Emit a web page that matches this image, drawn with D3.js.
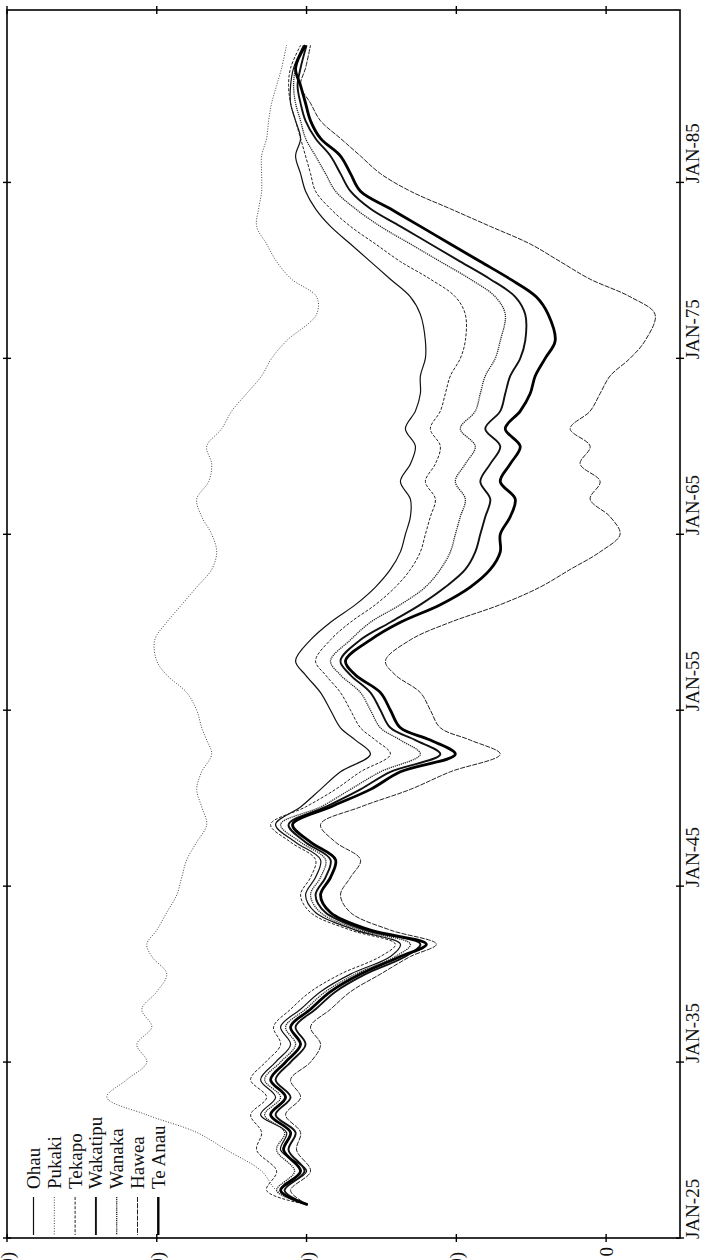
<!DOCTYPE html>
<html>
<head>
<meta charset="utf-8">
<script src="https://cdn.jsdelivr.net/npm/d3@7/dist/d3.min.js"></script>
<style>
  html, body { margin: 0; padding: 0; background: #fff; }
  svg { display: block; }
  text { font-family: "Liberation Serif", "DejaVu Serif", serif; fill: #111; }
</style>
</head>
<body>
<svg id="chart" width="705" height="1260"></svg>
<script>
// Lake series: cumulative departures, sampled at decimal years
const years = [1926.9, 1927.7, 1928.8, 1930, 1931, 1932, 1933, 1934, 1935, 1936,
  1937, 1938, 1939, 1940, 1941, 1941.7, 1942.5, 1943.5, 1944.5, 1945.5,
  1946.5, 1947.5, 1948.5, 1949.5, 1950.5, 1951.5, 1952.5, 1953.3, 1954, 1955,
  1956, 1957, 1957.8, 1959, 1960, 1961, 1962, 1963, 1964, 1965,
  1966, 1967, 1968, 1969, 1970, 1971, 1972, 1973, 1974, 1975,
  1976, 1977.5, 1978.5, 1979.5, 1980.5, 1981.5, 1982.5, 1983.5, 1984.5, 1985.5,
  1986.5, 1987.5, 1988.5, 1989.5, 1990.5, 1991.5, 1992.8];

const lakes = ["Ohau", "Pukaki", "Tekapo", "Wakatipu", "Wanaka", "Hawea", "Te Anau"];

const ohau = [-299, -326, -300, -326, -320, -346, -331, -346, -331, -316,
  -326, -306, -286, -256, -216, -206, -251, -291, -301, -291,
  -286, -311, -331, -306, -286, -266, -236, -251, -266, -276,
  -286, -301, -311, -296, -276, -251, -231, -216, -206, -201,
  -196, -196, -206, -196, -191, -201, -191, -186, -186, -181,
  -181, -186, -196, -216, -236, -256, -276, -291, -301, -306,
  -311, -306, -311, -316, -316, -313, -303];
const pukaki = [-299, -330, -345, -380, -410, -460, -500, -480, -460, -470,
  -455, -465, -450, -440, -455, -460, -450, -440, -430, -425,
  -420, -410, -400, -405, -410, -405, -395, -400, -405, -410,
  -420, -440, -450, -452, -440, -425, -410, -395, -390, -395,
  -405, -410, -398, -395, -400, -385, -375, -360, -345, -335,
  -320, -290, -290, -315, -330, -340, -350, -348, -345, -345,
  -345, -340, -338, -335, -330, -325, -320];
const tekapo = [-299, -340, -330, -350, -345, -356, -340, -356, -341, -326,
  -333, -316, -296, -266, -226, -211, -256, -296, -306, -296,
  -291, -316, -336, -301, -271, -246, -216, -231, -246, -256,
  -266, -281, -291, -276, -256, -231, -211, -196, -186, -181,
  -176, -171, -181, -171, -166, -176, -166, -161, -156, -146,
  -141, -141, -151, -176, -206, -231, -256, -276, -291, -296,
  -301, -306, -311, -316, -318, -316, -306];
const wakatipu = [-299, -322, -302, -318, -311, -331, -316, -331, -316, -301,
  -311, -291, -271, -241, -201, -186, -241, -281, -291, -281,
  -276, -301, -318, -281, -246, -216, -166, -191, -216, -226,
  -236, -256, -266, -246, -216, -186, -161, -141, -131, -126,
  -121, -116, -126, -116, -106, -121, -106, -101, -96, -86,
  -81, -81, -91, -116, -146, -176, -206, -236, -256, -266,
  -276, -291, -301, -306, -309, -306, -300];
const wanaka = [-299, -330, -312, -330, -322, -342, -326, -342, -326, -311,
  -321, -301, -281, -251, -211, -196, -246, -286, -296, -286,
  -281, -306, -326, -286, -256, -226, -186, -206, -226, -236,
  -246, -266, -276, -256, -236, -206, -181, -166, -156, -151,
  -146, -141, -151, -141, -131, -146, -131, -126, -121, -111,
  -106, -101, -111, -136, -166, -196, -226, -251, -271, -281,
  -291, -301, -306, -311, -313, -311, -303];
const hawea = [-299, -316, -296, -310, -306, -321, -306, -316, -296, -286,
  -296, -276, -256, -226, -196, -170, -216, -256, -266, -256,
  -246, -271, -286, -246, -196, -156, -106, -136, -166, -176,
  -186, -211, -221, -196, -156, -106, -66, -36, -6, 14,
  4, -16, -6, -26, -16, -36, -16, -6, 4, 24,
  39, 49, 24, -16, -46, -76, -116, -156, -196, -226,
  -246, -266, -286, -296, -306, -301, -296];
const teAnau = [-299, -326, -306, -323, -316, -336, -321, -336, -321, -306,
  -316, -296, -276, -246, -206, -180, -236, -276, -286, -276,
  -271, -296, -314, -276, -236, -206, -151, -176, -206, -216,
  -226, -251, -261, -236, -206, -166, -136, -116, -106, -106,
  -96, -91, -106, -96, -86, -101, -86, -76, -71, -61,
  -51, -58, -70, -96, -126, -156, -186, -216, -246, -256,
  -266, -286, -296, -301, -306, -311, -301];

const valueTicks = [-600, -450, -300, -150, 0];
const yearTicks = [1925, 1935, 1945, 1955, 1965, 1975, 1985];
const yearLabels = ["JAN-25", "JAN-35", "JAN-45", "JAN-55", "JAN-65", "JAN-75", "JAN-85"];

const seriesValues = [ohau, pukaki, tekapo, wakatipu, wanaka, hawea, teAnau];

// stroke style per lake
const styles = {
  "Ohau":     { w: 1.2, dash: null,      color: "#111" },
  "Pukaki":   { w: 1.0, dash: "1,1.6",   color: "#444" },
  "Tekapo":   { w: 1.0, dash: "3,1.6",   color: "#222" },
  "Wakatipu": { w: 1.9, dash: null,      color: "#111" },
  "Wanaka":   { w: 1.3, dash: "1.2,0.9", color: "#222" },
  "Hawea":    { w: 1.0, dash: "5,1.2",   color: "#222" },
  "Te Anau":  { w: 2.8, dash: null,      color: "#000" }
};

const svg = d3.select("#chart");
const plotL = 7, plotR = 680, plotT = 10, plotB = 1238;

// the chart is laid on its side: time runs upward, values run across
const x = d3.scaleLinear().domain([-600, 74]).range([plotL, plotR]);
const y = d3.scaleLinear().domain([1925, 1994.8]).range([plotB, plotT]);

const series = lakes.map((name, i) => ({
  name,
  points: years.map((yr, j) => ({ yr, v: seriesValues[i][j] }))
}));

const line = d3.line()
  .x(d => x(d.v))
  .y(d => y(d.yr))
  .curve(d3.curveCatmullRom.alpha(0.5));

svg.append("g")
  .selectAll("path")
  .data(series)
  .join("path")
  .attr("fill", "none")
  .attr("stroke", d => styles[d.name].color)
  .attr("stroke-width", d => styles[d.name].w)
  .attr("stroke-dasharray", d => styles[d.name].dash)
  .attr("stroke-linejoin", "round")
  .attr("d", d => line(d.points));

// frame
svg.append("rect")
  .attr("x", plotL).attr("y", plotT)
  .attr("width", plotR - plotL).attr("height", plotB - plotT)
  .attr("fill", "none").attr("stroke", "#000").attr("stroke-width", 1.6);

const tickLen = 4;
[plotB, plotT].forEach(edge => {
  svg.append("g").selectAll("line")
    .data(valueTicks).join("line")
    .attr("x1", d => x(d)).attr("x2", d => x(d))
    .attr("y1", edge - tickLen).attr("y2", edge + tickLen)
    .attr("stroke", "#000").attr("stroke-width", 1.4);
});
[plotL, plotR].forEach(edge => {
  svg.append("g").selectAll("line")
    .data(yearTicks).join("line")
    .attr("y1", d => y(d)).attr("y2", d => y(d))
    .attr("x1", edge - tickLen).attr("x2", edge + tickLen)
    .attr("stroke", "#000").attr("stroke-width", 1.4);
});

// value labels (negatives in parentheses), rotated with the page
const fmt = v => v < 0 ? `(${-v})` : `${v}`;
svg.append("g").selectAll("text")
  .data(valueTicks).join("text")
  .attr("transform", d => `translate(${x(d) + 7},${plotB + 9 + (d < 0 ? 5 : 0)}) rotate(-90)`)
  .attr("text-anchor", "end")
  .attr("font-size", 19)
  .text(fmt);

// time labels on the right edge
svg.append("g").selectAll("text")
  .data(yearTicks).join("text")
  .attr("transform", d => `translate(699,${y(d) + 1}) rotate(-90)`)
  .attr("text-anchor", "start")
  .attr("font-size", 19)
  .text((d, i) => yearLabels[i]);

// legend, bottom-left corner
const legend = svg.append("g").selectAll("g")
  .data(lakes).join("g")
  .attr("transform", (d, i) => `translate(${40 + i * 20.8},0)`);
legend.append("line")
  .attr("x1", -6.5).attr("x2", -6.5)
  .attr("y1", 1197).attr("y2", 1235)
  .attr("stroke", d => styles[d].color)
  .attr("stroke-width", d => Math.min(styles[d].w, 2.4))
  .attr("stroke-dasharray", d => styles[d].dash);
legend.append("text")
  .attr("transform", "translate(0,1189) rotate(-90)")
  .attr("text-anchor", "start")
  .attr("font-size", 19)
  .text(d => d);
</script>
</body>
</html>
